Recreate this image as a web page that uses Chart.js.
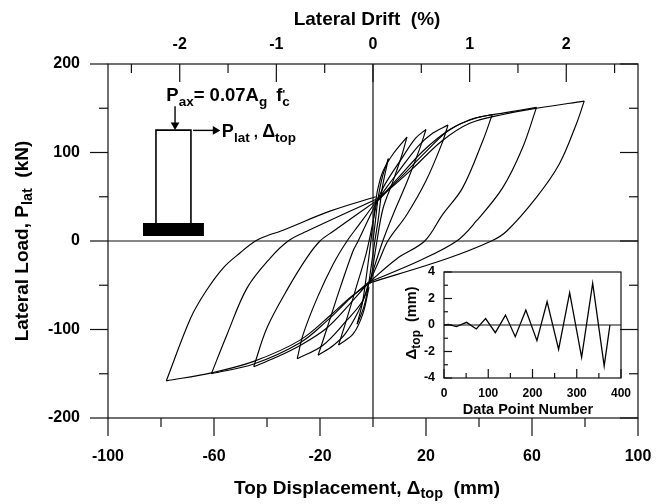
<!DOCTYPE html>
<html>
<head>
<meta charset="utf-8">
<title>Lateral load vs top displacement</title>
<script src="https://cdn.jsdelivr.net/npm/chart.js@4"></script>
<style>
  html, body { margin:0; padding:0; background:#fff; }
  #wrap { position:relative; width:663px; height:504px; overflow:hidden; }
  #mainBox { position:absolute; left:0; top:0; width:663px; height:504px; }
  #insetBox { position:absolute; left:400px; top:260px; width:240px; height:165px; }
</style>
</head>
<body>
<div id="wrap">
  <div id="mainBox"><canvas id="main" width="663" height="504"></canvas></div>
  <div id="insetBox"><canvas id="inset" width="240" height="165"></canvas></div>
</div>
<script>
// Tick values
const dispTicks  = [-100,-80,-60,-40,-20,0,20,40,60,80,100];
const dispLabels = [-100,-60,-20,20,60,100];
const loadTicks  = [-200,-150,-100,-50,0,50,100,150,200];
const driftTicks = [-2.5,-2,-1.5,-1,-0.5,0,0.5,1,1.5,2,2.5];
const driftLabels = [-2,-1,0,1,2];
const insetXTicks = [0,50,100,150,200,250,300,350,400];
const insetYTicks = [-4,-3,-2,-1,0,1,2,3,4];

// Loading branches, [displacement mm, load kN], smallest cycle first
const up1 = [[0,0],[1,25],[2,50],[3.5,72],[5.8,93]];
const up2 = [[1,45],[1.9,60],[3.8,79],[7.5,98],[12.8,117.5]];
const up3 = [[1.5,45],[4.5,64],[11,94],[16,116],[20,126]];
const up4 = [[1.5,45],[5,60],[9,76],[17,107],[22.6,122],[28.3,131]];
const up5 = [[2,46],[10,73],[19,102],[28,124],[36.5,137],[45,143]];
const up6 = [[2,46],[11.5,75],[20,101],[29,126],[39,139],[50,145],[61.7,151]];
const up7 = [[1,47],[6,58],[15,82],[26,113],[36.5,133],[49,143],[61.7,150],[79.7,158]];
const down1 = [[-0.5,-25],[-2,-55],[-3.5,-75],[-6,-94]];
const down2 = [[-1.5,-52],[-3.8,-82],[-7.5,-105],[-13,-117.5]];
const down3 = [[-1.9,-53],[-5.6,-80],[-10.5,-105],[-15,-118],[-20.7,-129]];
const down4 = [[-1.9,-50],[-4,-68],[-10,-90],[-19,-118],[-28.6,-133]];
const down5 = [[-1.9,-48],[-8.7,-71],[-17.3,-98],[-27.5,-118],[-37,-132],[-45,-142]];
const down6 = [[-1.9,-47],[-8.7,-65],[-17.3,-90],[-27.5,-115],[-45,-139],[-61,-150]];
const down7 = [[-1,-47],[-8.7,-64],[-15.7,-83],[-27.5,-112],[-45,-136],[-61,-149],[-78,-158]];

// Unloading branches
const unloadPos1 = [[5.8,93],[3.5,60],[2,25],[0.7,0],[-0.5,-25]];
const unloadPos2 = [[12.8,117.5],[11,98],[7.6,68],[3.8,37],[1.5,0],[-1,-48]];
const unloadPos3 = [[20,126],[17.7,105],[13,68],[7.6,30],[3.7,0],[-1.5,-48]];
const unloadPos4 = [[28.3,131],[26,110],[20,68],[12.8,30],[5.6,0],[2.6,-20],[-1.5,-48]];
const unloadPos5 = [[45,143],[41.4,113],[33.8,60],[26.3,30],[19.5,0],[9,-20],[-2,-48]];
const unloadPos6 = [[61.7,151],[56.4,105],[48.9,60],[39,22.6],[31.6,0],[17.7,-22],[-2,-47]];
const unloadPos7 = [[79.7,158],[76.7,132],[70.3,87],[61.6,49],[50.4,11],[44.7,0],[27.8,-20],[-1,-47]];
const unloadNeg1 = [[-6,-94],[-4,-70],[-2.3,-35],[-1,-5],[1,45]];
const unloadNeg2 = [[-13,-117.5],[-10.5,-94],[-6,-49],[-2.3,-11],[1.5,45]];
const unloadNeg3 = [[-20.7,-129],[-17.3,-98],[-12.4,-53],[-7.5,-11],[-5.6,0],[1.5,45]];
const unloadNeg4 = [[-28.6,-133],[-26.3,-105],[-21,-64],[-15,-26],[-9.8,0],[-5.6,17],[2,48]];
const unloadNeg5 = [[-45,-142],[-40,-98],[-32,-53],[-25,-19],[-20,0],[-15,11],[2,47]];
const unloadNeg6 = [[-61,-150],[-55,-105],[-47.5,-53],[-38.7,-19],[-32,0],[-25,11],[1,47]];
const unloadNeg7 = [[-78,-158],[-68.8,-87],[-63,-56.5],[-56.4,-30],[-50,-13],[-44.4,0],[-39.5,6.5],[-35,11],[-16,34],[1,50]];

const allBranches = [
  up1,unloadPos1,down1,unloadNeg1,up2,unloadPos2,down2,unloadNeg2,
  up3,unloadPos3,down3,unloadNeg3,up4,unloadPos4,down4,unloadNeg4,
  up5,unloadPos5,down5,unloadNeg5,up6,unloadPos6,down6,unloadNeg6,
  up7,unloadPos7,down7,unloadNeg7
];

// Test setup sketch, in the same axes units
const columnOutline = [[-81.9,20.3],[-81.9,125.3],[-68.7,125.3],[-68.7,20.3]];
const columnBase    = [[-86.8,13],[-63.8,13]];
const axialArrow    = [[-74.7,152.4],[-74.7,131]];
const lateralArrow  = [[-67.9,125],[-59.5,125]];

// Inset: displacement history
const pointNumbers = [0,10,28,51,73,94,116,139,161,185,210,233,259,284,311,336,362,375];
const insetDrift   = [0,0.05,-0.12,0.2,-0.3,0.48,-0.58,0.75,-0.88,1.13,-1.18,1.76,-1.84,2.44,-2.44,3.15,-3.1,0];

const FONT = '"Liberation Sans", Arial, sans-serif';
const toPts = arr => arr.map(p => ({ x:p[0], y:p[1] }));

// text with subscripts. segs: [text, drop, size, gap]
function richText(ctx, x, y, segs, rotate){
  ctx.save();
  ctx.translate(x, y);
  if (rotate) ctx.rotate(-Math.PI/2);
  ctx.fillStyle = "#000";
  ctx.textBaseline = "alphabetic";
  ctx.textAlign = "left";
  let w = 0;
  segs.forEach(s => { ctx.font = `bold ${s[2]}px ${FONT}`; w += ctx.measureText(s[0]).width + (s[3]||0); });
  let cx = -w/2;
  segs.forEach(s => {
    ctx.font = `bold ${s[2]}px ${FONT}`;
    ctx.fillText(s[0], cx, s[1]);
    cx += ctx.measureText(s[0]).width + (s[3]||0);
  });
  ctx.restore();
}

function tickMarks(ctx, scale, values, horizontal, from, majorTest, major, minor, dir){
  values.forEach(v => {
    const p = scale.getPixelForValue(v);
    const len = majorTest(v) ? major : minor;
    ctx.beginPath();
    if (horizontal){ ctx.moveTo(p, from); ctx.lineTo(p, from + dir*len); }
    else { ctx.moveTo(from, p); ctx.lineTo(from + dir*len, p); }
    ctx.stroke();
  });
}

const mainDecor = {
  id:"mainDecor",
  afterDatasetsDraw(chart){
    const { ctx, chartArea:a, scales } = chart;
    const { x, y, x2 } = scales;
    ctx.save();
    ctx.strokeStyle = "#111";
    ctx.lineWidth = 1.2;
    ctx.strokeRect(a.left, a.top, a.right-a.left, a.bottom-a.top);
    ctx.beginPath();
    ctx.moveTo(x.getPixelForValue(0), a.top); ctx.lineTo(x.getPixelForValue(0), a.bottom);
    ctx.moveTo(a.left, y.getPixelForValue(0)); ctx.lineTo(a.right, y.getPixelForValue(0));
    ctx.stroke();
    tickMarks(ctx, x, dispTicks, true, a.bottom, v => (v+100)%40===0, 18, 9, 1);
    tickMarks(ctx, x2, driftTicks, true, a.top, v => Number.isInteger(v), 18, 9, 1);
    tickMarks(ctx, y, loadTicks, false, a.left, v => v%100===0, 18, 9, -1);
    tickMarks(ctx, y, loadTicks, false, a.right, v => v%100===0, 18, 9, -1);
    ctx.restore();

    richText(ctx, 367, 25, [["Lateral Drift  (%)",0,19]]);
    richText(ctx, 367, 494, [["Top Displacement, ",0,19],["Δ",0,19],["top",4,14.5],["  (mm)",0,19]]);
    richText(ctx, 28, 241, [["Lateral Load, P",0,19],["lat",4,14.5],["  (kN)",0,19]], true);

    const lx = x.getPixelForValue(-81.9);
    const ty = y.getPixelForValue(125.3);
    richText(ctx, lx+72, ty-29, [["P",0,18.5],["ax",5,13.5],["= 0.07A",0,18.5],["g",5,13.5,4],[" f",0,18.5],["'",-3,11,-3],["c",5,13.5]]);
    richText(ctx, lx+103, ty+7, [["P",0,18],["lat",5,13.5],[" , ",0,15],["Δ",0,18],["top",5,13.5]]);
  }
};

const insetDecor = {
  id:"insetDecor",
  afterDatasetsDraw(chart){
    const { ctx, chartArea:a, scales } = chart;
    const { x, y } = scales;
    ctx.save();
    ctx.strokeStyle = "#111";
    ctx.lineWidth = 1.2;
    ctx.strokeRect(a.left, a.top, a.right-a.left, a.bottom-a.top);
    ctx.beginPath();
    ctx.moveTo(a.left, y.getPixelForValue(0)); ctx.lineTo(a.right, y.getPixelForValue(0));
    ctx.stroke();
    tickMarks(ctx, x, insetXTicks, true, a.bottom, v => v%100===0, 9, 5, -1);
    tickMarks(ctx, y, insetYTicks, false, a.left, v => v%2===0, 8, 4, 1);
    ctx.restore();
    richText(ctx, 128, 154, [["Data Point Number",0,14.5]]);
    richText(ctx, 16, 63, [["Δ",0,15],["top",3.5,12],["  (mm)",0,14.5]], true);
  }
};

// fixed axis band, no extra room for labels hanging over the ends
function sizeAxis(size, horizontal){
  return scale => {
    if (horizontal) scale.height = size; else scale.width = size;
    scale.paddingLeft = scale.paddingRight = scale.paddingTop = scale.paddingBottom = 0;
  };
}

const curveSets = allBranches.map(b => ({
  data: toPts(b), showLine:true, borderColor:"#000", borderWidth:1.15,
  pointRadius:0, tension:0.35, fill:false
}));
const sketchLine = { showLine:true, borderColor:"#000", fill:false, tension:0 };

new Chart(document.getElementById("main").getContext("2d"), {
  type:"scatter",
  data:{ datasets:[
    ...curveSets,
    { ...sketchLine, data:toPts(columnOutline), borderWidth:1.6, pointRadius:0 },
    { ...sketchLine, data:toPts(columnBase), borderWidth:13, pointRadius:0, borderCapStyle:"butt" },
    { ...sketchLine, data:toPts(axialArrow), borderWidth:1.4, backgroundColor:"#000",
      pointRadius:[0,5], pointStyle:"triangle", pointRotation:180, pointBorderWidth:0 },
    { ...sketchLine, data:toPts(lateralArrow), borderWidth:1.4, backgroundColor:"#000",
      pointRadius:[0,5], pointStyle:"triangle", pointRotation:90, pointBorderWidth:0 }
  ]},
  options:{
    responsive:false, animation:false, clip:false,
    layout:{ padding:{ left:0, right:25, top:0, bottom:0 } },
    plugins:{ legend:{ display:false }, tooltip:{ enabled:false } },
    scales:{
      x:{
        type:"linear", position:"bottom", min:-100, max:100,
        afterBuildTicks: s => { s.ticks = dispLabels.map(v => ({ value:v })); },
        afterFit: sizeAxis(86, true),
        grid:{ display:false, drawTicks:false }, border:{ display:false },
        ticks:{ color:"#000", padding:29, maxRotation:0, autoSkip:false, font:{ family:FONT, size:16, weight:"bold" } }
      },
      x2:{
        type:"linear", position:"top", min:-266/97, max:266/97,
        afterBuildTicks: s => { s.ticks = driftLabels.map(v => ({ value:v })); },
        afterFit: sizeAxis(64, true),
        grid:{ display:false, drawTicks:false }, border:{ display:false },
        ticks:{ color:"#000", padding:10, maxRotation:0, autoSkip:false, callback:v => String(v), font:{ family:FONT, size:16, weight:"bold" } }
      },
      y:{
        type:"linear", min:-200, max:200,
        afterBuildTicks: s => { s.ticks = [-200,-100,0,100,200].map(v => ({ value:v })); },
        afterFit: sizeAxis(108, false),
        grid:{ display:false, drawTicks:false }, border:{ display:false },
        ticks:{ color:"#000", padding:28, autoSkip:false, font:{ family:FONT, size:16, weight:"bold" } }
      }
    }
  },
  plugins:[mainDecor]
});

new Chart(document.getElementById("inset").getContext("2d"), {
  type:"scatter",
  data:{ datasets:[{
    data: pointNumbers.map((n,i) => ({ x:n, y:insetDrift[i] })),
    showLine:true, borderColor:"#000", borderWidth:1.3, pointRadius:0, tension:0
  }]},
  options:{
    responsive:false, animation:false,
    layout:{ padding:{ left:0, right:19, top:12, bottom:0 } },
    plugins:{ legend:{ display:false }, tooltip:{ enabled:false } },
    scales:{
      x:{
        type:"linear", min:0, max:400,
        afterBuildTicks: s => { s.ticks = [0,100,200,300,400].map(v => ({ value:v })); },
        afterFit: sizeAxis(47, true),
        grid:{ display:false, drawTicks:false }, border:{ display:false },
        ticks:{ color:"#000", padding:8, maxRotation:0, autoSkip:false, font:{ family:FONT, size:12, weight:"bold" } }
      },
      y:{
        type:"linear", min:-4, max:4,
        afterBuildTicks: s => { s.ticks = [-4,-2,0,2,4].map(v => ({ value:v })); },
        afterFit: sizeAxis(44, false),
        grid:{ display:false, drawTicks:false }, border:{ display:false },
        ticks:{ color:"#000", padding:9, autoSkip:false, font:{ family:FONT, size:12.5, weight:"bold" } }
      }
    }
  },
  plugins:[insetDecor]
});
</script>
</body>
</html>
